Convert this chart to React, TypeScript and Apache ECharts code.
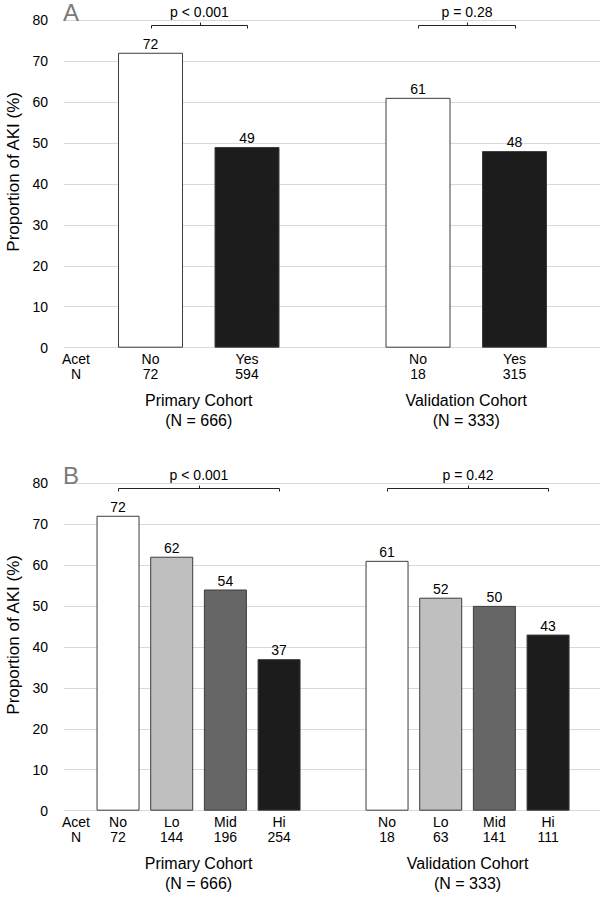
import React, { useEffect, useRef } from "react";
import * as echarts from "echarts";

const FONT = "'Liberation Sans', Arial, sans-serif";

// ---- data ----
const panelACategories = ["No", "Yes"];
const panelAPrimaryN = [72, 594];
const panelAPrimaryValues = [72, 49];
const panelAValidationN = [18, 315];
const panelAValidationValues = [61, 48];

const panelBCategories = ["No", "Lo", "Mid", "Hi"];
const panelBPrimaryN = [72, 144, 196, 254];
const panelBPrimaryValues = [72, 62, 54, 37];
const panelBValidationN = [18, 63, 141, 111];
const panelBValidationValues = [61, 52, 50, 43];

const cohortNames = ["Primary Cohort\n(N = 666)", "Validation Cohort\n(N = 333)"];
const panelAPValues = ["p < 0.001", "p = 0.28"];
const panelBPValues = ["p < 0.001", "p = 0.42"];
const panelLetters = ["A", "B"];
const rowLabel = "Acet\nN";
const yAxisName = "Proportion of AKI (%)";
const yMin = 0;
const yMax = 80;
const yInterval = 10;
const bracketLevel = 78.7;

const colorsA = ["#ffffff", "#1c1c1c"];
const colorsB = ["#ffffff", "#bfbfbf", "#666666", "#1c1c1c"];

// ---- layout ----
const GRID_H = 327.7;
const panels = [
  {
    top: 20,
    letterTop: 0,
    primary: { left: 102.25, width: 193 },
    validation: { left: 369.75, width: 193 },
    barWidth: 65,
  },
  {
    top: 483,
    letterTop: 463.5,
    primary: { left: 91.2, width: 214.7 },
    validation: { left: 360.2, width: 214.7 },
    barWidth: 43,
  },
];

function bracketSeries(xi: number, count: number, text: string) {
  return {
    type: "custom",
    xAxisIndex: xi,
    yAxisIndex: xi,
    clip: false,
    silent: true,
    z: 5,
    data: [[0, count - 1, bracketLevel]],
    renderItem: (params: any, api: any) => {
      const a = api.coord([api.value(0), api.value(2)]);
      const b = api.coord([api.value(1), api.value(2)]);
      const y = Math.round(a[1]) + 0.5;
      const x1 = Math.round(a[0]) + 0.5;
      const x2 = Math.round(b[0]) + 0.5;
      const mid = Math.round((x1 + x2) / 2) + 0.5;
      return {
        type: "group",
        children: [
          {
            type: "polyline",
            shape: { points: [[x1, y + 3], [x1, y], [x2, y], [x2, y + 3]] },
            style: { stroke: "#222", lineWidth: 1, fill: null },
          },
          {
            type: "line",
            shape: { x1: mid, y1: y, x2: mid, y2: y - 3 },
            style: { stroke: "#222", lineWidth: 1 },
          },
          {
            type: "text",
            x: (x1 + x2) / 2,
            y: y - 14,
            style: {
              text,
              fill: "#000",
              fontSize: 14,
              fontFamily: FONT,
              align: "center",
              verticalAlign: "middle",
            },
          },
        ],
      };
    },
  };
}

function barSeries(xi: number, values: number[], colors: string[], barWidth: number) {
  return {
    type: "bar",
    xAxisIndex: xi,
    yAxisIndex: xi,
    barWidth,
    data: values.map((v, i) => ({ value: v, itemStyle: { color: colors[i] } })),
    itemStyle: { borderColor: "#3c3c3c", borderWidth: 1 },
    label: {
      show: true,
      position: "top",
      distance: 2,
      fontSize: 14,
      color: "#000",
      fontFamily: FONT,
    },
  };
}

export default function App() {
  const ref = useRef<HTMLDivElement>(null);

  useEffect(() => {
    document.body.style.margin = "0";
    if (!ref.current) return;
    const chart = echarts.init(ref.current, null, { renderer: "svg" });

    const grids: any[] = [];
    const xAxes: any[] = [];
    const yAxes: any[] = [];
    const series: any[] = [];
    const titles: any[] = [];
    const graphics: any[] = [];

    const panelData = [
      {
        cats: panelACategories,
        primaryN: panelAPrimaryN,
        primaryV: panelAPrimaryValues,
        validN: panelAValidationN,
        validV: panelAValidationValues,
        colors: colorsA,
        pvals: panelAPValues,
      },
      {
        cats: panelBCategories,
        primaryN: panelBPrimaryN,
        primaryV: panelBPrimaryValues,
        validN: panelBValidationN,
        validV: panelBValidationValues,
        colors: colorsB,
        pvals: panelBPValues,
      },
    ];

    panels.forEach((p, pi) => {
      const d = panelData[pi];
      const base = grids.length;
      // main grid
      grids.push({ left: 64, width: 536, top: p.top, height: GRID_H, containLabel: false, outerBoundsMode: "none" });
      xAxes.push({ type: "category", gridIndex: base, data: [""], show: false });
      yAxes.push({
        type: "value",
        gridIndex: base,
        min: yMin,
        max: yMax,
        interval: yInterval,
        axisLine: { show: false },
        axisTick: { show: false },
        axisLabel: { fontSize: 14, color: "#000", margin: 16, fontFamily: FONT },
        splitLine: { lineStyle: { color: "#d9d9d9", width: 1 } },
        name: yAxisName,
        nameLocation: "middle",
        nameGap: 40,
        nameTextStyle: { fontSize: 17, color: "#000", fontFamily: FONT, padding: [0, 0, 0, 24] },
      });
      // cohort grids
      const cohorts = [
        { g: p.primary, n: d.primaryN, v: d.primaryV },
        { g: p.validation, n: d.validN, v: d.validV },
      ];
      cohorts.forEach((c, ci) => {
        const gi = grids.length;
        grids.push({ left: c.g.left, width: c.g.width, top: p.top, height: GRID_H, containLabel: false, outerBoundsMode: "none" });
        xAxes.push({
          type: "category",
          gridIndex: gi,
          data: d.cats.map((cat, i) => `${cat}\n${c.n[i]}`),
          axisLine: { show: false },
          axisTick: { show: false },
          axisLabel: { interval: 0, fontSize: 14, lineHeight: 15, margin: 4, color: "#000", fontFamily: FONT },
          name: cohortNames[ci],
          nameLocation: "middle",
          nameGap: 43,
          nameTextStyle: { fontSize: 16, lineHeight: 20, color: "#000", fontFamily: FONT },
        });
        yAxes.push({
          type: "value",
          gridIndex: gi,
          min: yMin,
          max: yMax,
          interval: yInterval,
          show: false,
          splitLine: { show: false },
        });
        series.push(barSeries(gi, c.v, d.colors, p.barWidth));
        series.push(bracketSeries(gi, d.cats.length, d.pvals[ci]));
      });
      titles.push({
        text: panelLetters[pi],
        left: 63,
        top: p.letterTop,
        padding: 0,
        textStyle: { fontSize: 24, fontWeight: "normal", color: "#7a7a7a", fontFamily: FONT },
      });
      graphics.push({
        type: "text",
        x: 76,
        y: p.top + GRID_H + 4,
        style: {
          text: rowLabel,
          fill: "#000",
          fontSize: 14,
          lineHeight: 15,
          fontFamily: FONT,
          align: "center",
          verticalAlign: "top",
        },
      });
    });

    chart.setOption({
      animation: false,
      backgroundColor: "#ffffff",
      title: titles,
      grid: grids,
      xAxis: xAxes,
      yAxis: yAxes,
      series,
      graphic: graphics,
    });

    return () => chart.dispose();
  }, []);

  return <div ref={ref} style={{ width: 600, height: 898 }} />;
}
